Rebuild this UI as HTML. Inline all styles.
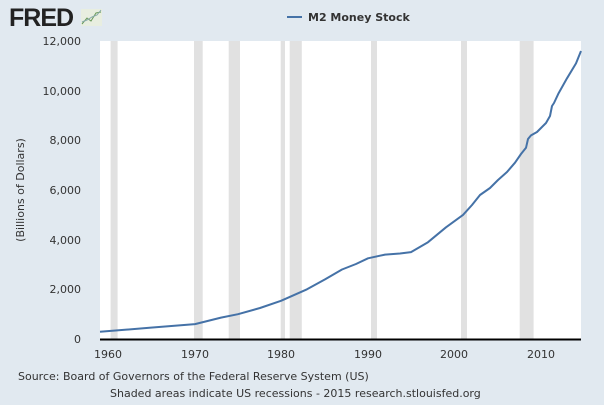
<!DOCTYPE html><html><head><style>
body{margin:0;width:604px;height:401px;background:#e1e9f0;font-family:"DejaVu Sans","Liberation Sans",sans-serif;overflow:hidden}
</style></head><body>
<svg width="604" height="401" xmlns="http://www.w3.org/2000/svg" font-family="DejaVu Sans, Liberation Sans, sans-serif">
<text x="9" y="26" font-family="Liberation Sans, sans-serif" font-weight="900" font-size="25" fill="#222" letter-spacing="-1">FRED</text>
<rect x="81" y="9" width="21" height="17" fill="#e8eee0"/>
<polyline points="82,24 87,18 91,21 96,13 101,12" fill="none" stroke="#6a9a5a" stroke-width="1"/>
<polyline points="82,22 87,20 92,17 97,15 101,10" fill="none" stroke="#8aa" stroke-width="1"/>
<line x1="287" y1="17" x2="302" y2="17" stroke="#4572a7" stroke-width="2"/>
<text x="308" y="21" font-size="11" font-weight="bold" fill="#333">M2 Money Stock</text>
<rect x="100" y="41" width="481" height="298" fill="#fff"/>
<g fill="#e1e1e1">
<rect x="110.6" y="41" width="7" height="298"/>
<rect x="194" y="41" width="8.7" height="298"/>
<rect x="228.7" y="41" width="11.3" height="298"/>
<rect x="280.7" y="41" width="4.3" height="298"/>
<rect x="289.7" y="41" width="12.1" height="298"/>
<rect x="371" y="41" width="6" height="298"/>
<rect x="461" y="41" width="6" height="298"/>
<rect x="519.7" y="41" width="13.9" height="298"/>
</g>
<g font-size="11" fill="#333" text-anchor="end">
<text x="81" y="45">12,000</text><text x="81" y="95">10,000</text><text x="81" y="144">8,000</text>
<text x="81" y="194">6,000</text><text x="81" y="244">4,000</text><text x="81" y="293">2,000</text><text x="81" y="343">0</text>
</g>
<text transform="translate(24,190) rotate(-90)" font-size="11" fill="#333" text-anchor="middle">(Billions of Dollars)</text>
<line x1="100" y1="339.5" x2="581" y2="339.5" stroke="#000" stroke-width="2"/>
<g font-size="11" fill="#333" text-anchor="middle">
<text x="108" y="358">1960</text><text x="195" y="358">1970</text><text x="281" y="358">1980</text>
<text x="368" y="358">1990</text><text x="454" y="358">2000</text><text x="541" y="358">2010</text>
</g>
<polyline fill="none" stroke="#4572a7" stroke-width="2" stroke-linejoin="round" points="100,331.8 151,327.6 195,324.1 221,317.6 238,314.2 260,308 281,300.8 307,289.3 325,279.4 342,269.5 356,264 368,258.3 385,254.6 400,253.5 411,252.1 428,242.2 446,227.3 463,214.9 472,205 480,195 490,188 498,180 507,172 515,162.7 521,154 526,147.8 528,139 531,135.4 537,132 541,128 546,123 550,116 552,106 554,103 558.6,93.2 567,78.3 576,63.4 581,51"/>
<text x="18" y="380" font-size="11" fill="#333">Source: Board of Governors of the Federal Reserve System (US)</text>
<text x="110" y="397" font-size="11" fill="#333">Shaded areas indicate US recessions - 2015 research.stlouisfed.org</text>
</svg>
</body></html>
